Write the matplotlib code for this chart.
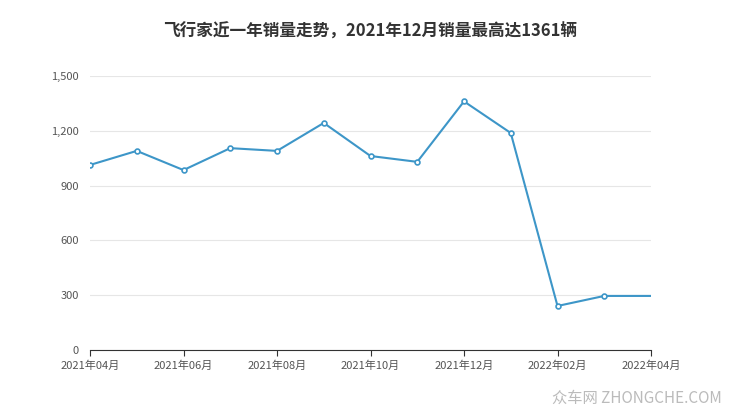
import matplotlib
matplotlib.use('Agg')
import matplotlib.pyplot as plt
from matplotlib.ticker import FuncFormatter

plt.rcParams['font.family'] = ['Noto Sans CJK SC', 'DejaVu Sans']

months = ['2021年04月','2021年05月','2021年06月','2021年07月','2021年08月','2021年09月','2021年10月',
          '2021年11月','2021年12月','2022年01月','2022年02月','2022年03月','2022年04月']
sales = [1013, 1090, 985, 1105, 1090, 1243, 1062, 1030, 1361, 1188, 241, 296, 296]

x = list(range(len(months)))
fig = plt.figure(figsize=(7.4, 4.17), dpi=100)
ax = fig.add_axes([90/740, 1-350/417, 561/740, 274/417])
c = '#3d96c8'
ax.plot(x, sales, color=c, lw=1.5)
ax.plot(x[:-1], sales[:-1], 'o', ms=3.5, mfc='white', mec=c, mew=1.2)
ax.set_xlim(0, len(months)-1)
ax.set_ylim(0, 1500)
ax.set_yticks([0, 300, 600, 900, 1200, 1500])
ax.yaxis.set_major_formatter(FuncFormatter(lambda v, p: f'{int(v):,}'))
ax.set_xticks(x[::2])
ax.set_xticklabels(months[::2])
ax.grid(axis='y', color='#e6e6e6', lw=0.8)
for s in ['top', 'right', 'left']:
    ax.spines[s].set_visible(False)
ax.spines['bottom'].set_color('#333333')
ax.tick_params(axis='y', length=0, labelsize=8, colors='#555555', pad=8)
ax.tick_params(axis='x', length=4, labelsize=8, colors='#555555', color='#333333')
fig.text(0.5, 1-32/417, '飞行家近一年销量走势，2021年12月销量最高达1361辆', ha='center', va='center',
         fontsize=12, fontweight='bold', color='#333333')
fig.text(0.975, 1-398/417, '众车网 ZHONGCHE.COM', ha='right', va='center', fontsize=11, color='#bbbbbb')
fig.savefig('out.png')
